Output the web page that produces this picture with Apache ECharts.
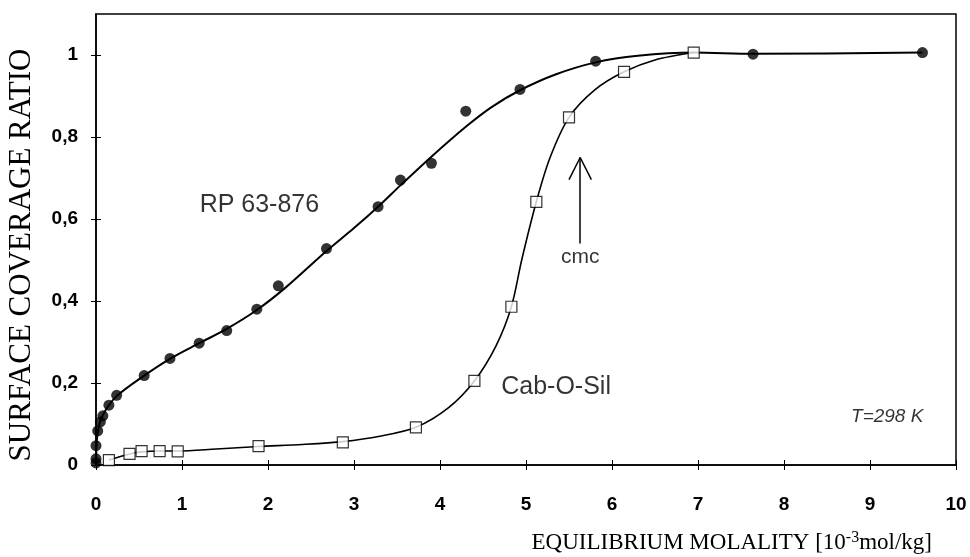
<!DOCTYPE html>
<html>
<head>
<meta charset="utf-8">
<script src="https://cdn.jsdelivr.net/npm/echarts@6/dist/echarts.min.js"></script>
<style>
  html, body { margin: 0; padding: 0; background: #fff; }
  #main { width: 970px; height: 557px; }
</style>
</head>
<body>
<div id="main"></div>
<script>
// measured points, RP 63-876 (filled circles)
var rpPoints = [
  [0, 0.005], [0, 0.015], [0, 0.047], [0.02, 0.083], [0.05, 0.105], [0.08, 0.12],
  [0.15, 0.146], [0.24, 0.17], [0.56, 0.218], [0.86, 0.26], [1.2, 0.297],
  [1.52, 0.328], [1.87, 0.38], [2.12, 0.437], [2.68, 0.528], [3.28, 0.63],
  [3.54, 0.695], [3.9, 0.736], [4.3, 0.863], [4.93, 0.916], [5.81, 0.985],
  [7.64, 1.002], [9.61, 1.006]
];
// measured points, Cab-O-Sil (open squares)
var cabPoints = [
  [0.15, 0.012], [0.39, 0.027], [0.53, 0.034], [0.74, 0.034], [0.95, 0.033],
  [1.89, 0.046], [2.87, 0.055], [3.72, 0.092], [4.4, 0.205], [4.83, 0.386],
  [5.12, 0.642], [5.5, 0.848], [6.14, 0.959], [6.95, 1.006]
];
// fitted curves as drawn in the figure
var rpCurve = [
  [0, 0], [0.01, 0.06], [0.04, 0.1], [0.1, 0.13], [0.24, 0.168], [0.56, 0.218],
  [0.86, 0.259], [1.2, 0.297], [1.52, 0.332], [1.87, 0.378], [2.2, 0.432],
  [2.68, 0.522], [3.0, 0.578], [3.28, 0.63], [3.54, 0.682], [3.9, 0.752],
  [4.3, 0.825], [4.6, 0.873], [4.93, 0.914], [5.35, 0.953], [5.81, 0.982],
  [6.3, 0.998], [6.95, 1.006], [7.64, 1.003], [9.61, 1.006]
];
var cabCurve = [
  [0.15, 0.012], [0.39, 0.027], [0.53, 0.032], [0.74, 0.034], [0.95, 0.034],
  [1.4, 0.039], [1.89, 0.045], [2.4, 0.05], [2.87, 0.057], [3.3, 0.07],
  [3.72, 0.092], [4.1, 0.14], [4.4, 0.205], [4.65, 0.29], [4.83, 0.386],
  [4.95, 0.5], [5.12, 0.642], [5.28, 0.75], [5.5, 0.848], [5.8, 0.915],
  [6.14, 0.959], [6.5, 0.988], [6.95, 1.006]
];
var xTicks = [0, 1, 2, 3, 4, 5, 6, 7, 8, 9, 10];
var yTicks = [0, 0.2, 0.4, 0.6, 0.8, 1];
// cmc arrow (shaft bottom, tip) and the two wing ends
var cmcArrow = [[5.63, 0.54], [5.63, 0.75]];
var cmcWings = [[5.50, 0.696], [5.76, 0.696]];

var myChart = echarts.init(document.getElementById('main'));

var sans = 'Liberation Sans';
var serif = 'Liberation Serif';

function commaFmt(v) {
  return String(v).replace('.', ',');
}

var option = {
  animation: false,
  grid: {
    left: 96, right: 14, top: 14, bottom: 92,
    show: true, borderColor: '#000', borderWidth: 1.5, backgroundColor: 'transparent'
  },
  xAxis: [{
    type: 'value', min: 0, max: 10, interval: 1,
    axisLine: { show: true, lineStyle: { color: '#000', width: 1.5 } },
    axisTick: { show: true, inside: true, length: 5, lineStyle: { color: '#000' } },
    axisLabel: { margin: 30, color: '#000', fontFamily: sans, fontWeight: 'bold', fontSize: 19,
      customValues: xTicks },
    splitLine: { show: false }
  }, {
    type: 'value', min: 0, max: 10, interval: 1, position: 'bottom',
    axisLine: { show: false },
    axisTick: { show: true, inside: false, length: 5, lineStyle: { color: '#000' } },
    axisLabel: { show: false },
    splitLine: { show: false }
  }],
  yAxis: [{
    type: 'value', min: 0, max: 1.1,
    axisLine: { show: true, lineStyle: { color: '#000', width: 1.5 } },
    axisTick: { show: true, inside: true, length: 5, lineStyle: { color: '#000' }, customValues: yTicks },
    axisLabel: { margin: 18, color: '#000', fontFamily: sans, fontWeight: 'bold', fontSize: 19,
      customValues: yTicks, formatter: commaFmt },
    splitLine: { show: false }
  }, {
    type: 'value', min: 0, max: 1.1, position: 'left',
    axisLine: { show: false },
    axisTick: { show: true, inside: false, length: 5, lineStyle: { color: '#000' }, customValues: yTicks },
    axisLabel: { show: false, customValues: yTicks },
    splitLine: { show: false }
  }],
  series: [
    {
      name: 'RP curve', type: 'line', data: rpCurve, smooth: 0.3,
      showSymbol: false, symbol: 'none', lineStyle: { color: '#000', width: 2 }, z: 2
    },
    {
      name: 'Cab curve', type: 'line', data: cabCurve, smooth: 0.3,
      showSymbol: false, symbol: 'none', lineStyle: { color: '#000', width: 1.6 }, z: 2
    },
    {
      name: 'RP 63-876', type: 'scatter', data: rpPoints, symbol: 'circle', symbolSize: 11,
      itemStyle: { color: '#000' }, z: 3
    },
    {
      name: 'Cab-O-Sil', type: 'scatter', data: cabPoints, symbol: 'rect', symbolSize: 11,
      itemStyle: { color: '#fff', borderColor: '#000', borderWidth: 1.2 }, z: 4
    },
    {
      name: 'cmc', type: 'line', data: [], symbol: 'none',
      markLine: {
        silent: true, symbol: 'none', label: { show: false },
        lineStyle: { color: '#000', width: 1.5, type: 'solid' },
        data: [
          [{ coord: cmcArrow[0] }, { coord: cmcArrow[1] }],
          [{ coord: cmcWings[0] }, { coord: cmcArrow[1] }],
          [{ coord: cmcWings[1] }, { coord: cmcArrow[1] }]
        ]
      }
    },
    {
      name: 'labels', type: 'scatter', symbolSize: 0, silent: true, z: 5,
      data: [
        { value: [1.9, 0.634], label: { formatter: 'RP 63-876', fontSize: 25 } },
        { value: [5.35, 0.19], label: { formatter: 'Cab-O-Sil', fontSize: 25 } },
        { value: [5.63, 0.508], label: { formatter: 'cmc', fontSize: 21 } },
        { value: [9.2, 0.117], label: { formatter: 'T=298 K', fontSize: 19, fontStyle: 'italic' } }
      ],
      label: { show: true, position: 'inside', color: '#000', fontFamily: sans }
    }
  ],
  graphic: [
    {
      type: 'text', x: 22, y: 255, rotation: Math.PI / 2,
      style: {
        text: 'SURFACE COVERAGE RATIO', fill: '#000',
        font: '31px "Liberation Serif"', align: 'center', verticalAlign: 'middle'
      }
    },
    {
      type: 'text', right: 38, bottom: 3,
      style: {
        text: 'EQUILIBRIUM MOLALITY [10{sup|-3}mol/kg]', fill: '#000',
        font: '23px "Liberation Serif"',
        rich: {
          sup: { fontSize: 16, fontFamily: serif, verticalAlign: 'top', padding: [0, 0, 10, 0] }
        }
      }
    }
  ]
};

myChart.setOption(option);
</script>
</body>
</html>
